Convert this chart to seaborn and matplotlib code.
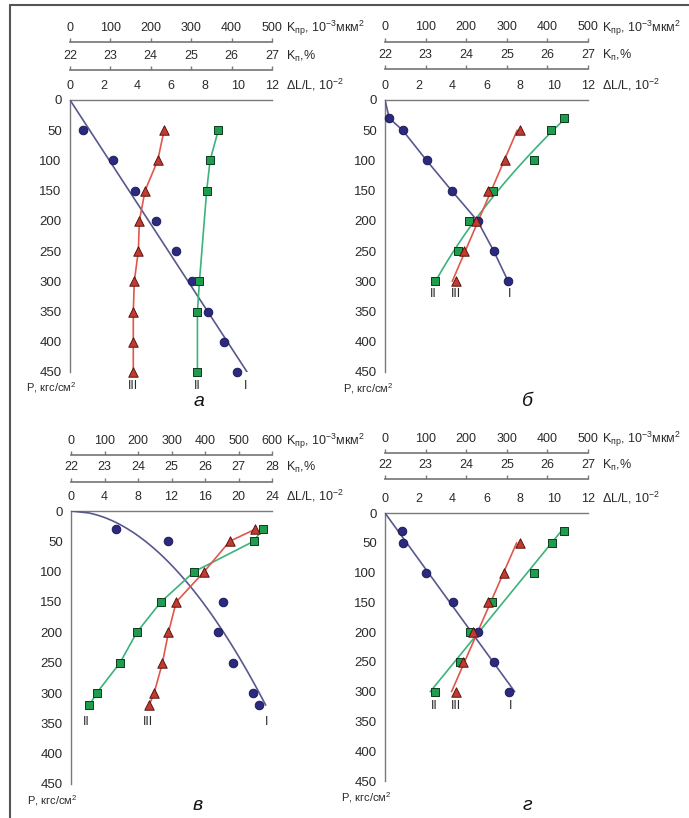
import numpy as np
import matplotlib.pyplot as plt
import seaborn as sns
from matplotlib.lines import Line2D

# values are read in units of the ΔL/L axis of each panel, P in kgf/cm2
# panel а
P_a = [50, 100, 150, 200, 250, 300, 350, 400, 450]
I_a = [0.79, 2.58, 3.86, 5.09, 6.28, 7.27, 8.20, 9.17, 9.94]
III_a = [5.59, 5.21, 4.46, 4.12, 4.06, 3.82, 3.76, 3.76, 3.76]
P_a_II = [50, 100, 150, 300, 350, 450]
II_a = [8.81, 8.32, 8.12, 7.69, 7.57, 7.57]

# panel б
P_b = [30, 50, 100, 150, 200, 250, 300]
I_b = [0.25, 1.04, 2.46, 3.94, 5.47, 6.43, 7.28]
II_b = [10.57, 9.84, 8.80, 6.39, 4.98, 4.33, 2.95]
P_b_III = [50, 100, 150, 200, 250, 300]
III_b = [7.97, 7.08, 6.10, 5.37, 4.66, 4.19]

# panel в
P_v = [30, 50, 100, 150, 200, 250, 300, 320]
P_v_I = [30, 50, 150, 200, 250, 300, 320]
I_v = [5.38, 11.56, 18.14, 17.50, 19.33, 21.70, 22.40]
II_v = [22.88, 21.80, 14.71, 10.73, 7.86, 5.86, 3.07, 2.19]
III_v = [22.00, 18.94, 15.90, 12.56, 11.64, 10.92, 9.93, 9.33]

# panel г
P_g = [30, 50, 100, 150, 200, 250, 300]
I_g = [0.99, 1.09, 2.44, 4.02, 5.47, 6.45, 7.33]
II_g = [10.60, 9.90, 8.81, 6.30, 5.05, 4.42, 2.93]
P_g_III = [50, 100, 150, 200, 250, 300]
III_g = [7.98, 7.03, 6.10, 5.21, 4.61, 4.22]

sns.set_theme(style="white")
plt.rcParams['font.family'] = ['Liberation Sans', 'DejaVu Sans']
plt.rcParams['mathtext.fontset'] = 'custom'
plt.rcParams['mathtext.rm'] = 'Liberation Sans'

W, H = 689, 818
AX_GRAY = '#7a7a7a'
TXT = '#2a2a2a'
STY = {
    'I': dict(marker='o', s=38, color='#2b2a7e', edgecolor='#1c1b5a', line='#58588e'),
    'II': dict(marker='s', s=40, color='#1f9d4e', edgecolor='#0c3a1c', line='#3cb37a'),
    'III': dict(marker='^', s=46, color='#c23b30', edgecolor='#5a1410', line='#e0574c'),
}

fig = plt.figure(figsize=(W / 100, H / 100), dpi=100)


def px_rect(x0, y0, x1, y1):
    return [x0 / W, 1 - y1 / H, (x1 - x0) / W, (y1 - y0) / H]


def setup_panel(rect, xmax, xstep, kpr_max, kp_hi, loc_kp, loc_kpr):
    ax = fig.add_axes(rect)
    ax.set_xlim(0, xmax)
    ax.set_ylim(450, 0)
    ax.set_xticks(np.arange(0, xmax + 0.1, xstep))
    ax.set_yticks(np.arange(0, 451, 50))
    ax.xaxis.tick_top()
    sns.despine(ax=ax, top=False, right=True, bottom=True, left=False)
    for s in ax.spines.values():
        s.set_color(AX_GRAY)
        s.set_linewidth(1)
    ax.tick_params(axis='x', direction='out', length=3, width=1, color=AX_GRAY,
                   labelsize=9, labelcolor=TXT, pad=3)
    ax.tick_params(axis='y', direction='out', length=4, width=1, color=AX_GRAY,
                   labelsize=9.5, labelcolor=TXT, pad=2)
    ax.set_xlabel('')
    ax.set_ylabel('')

    kp = ax.secondary_xaxis(1 + loc_kp, functions=(lambda v: 22 + v * (kp_hi - 22) / xmax,
                                                   lambda k: (k - 22) * xmax / (kp_hi - 22)))
    kp.set_xticks(np.arange(22, kp_hi + 0.1, 1))
    kpr = ax.secondary_xaxis(1 + loc_kpr, functions=(lambda v: v * kpr_max / xmax,
                                                     lambda k: k * xmax / kpr_max))
    kpr.set_xticks(np.arange(0, kpr_max + 1, 100))
    for sec in (kp, kpr):
        sec.spines['top'].set_color(AX_GRAY)
        sec.tick_params(axis='x', direction='out', length=3, width=1, color=AX_GRAY,
                        labelsize=9, labelcolor=TXT, pad=3)

    kw = dict(xycoords='axes fraction', textcoords='offset points', ha='left',
              va='center', fontsize=9, color=TXT)
    ax.annotate(r'ΔL/L, 10$^{\mathregular{-2}}$', xy=(1, 1), xytext=(10, 11), **kw)
    ax.annotate(r'K$_{\mathregular{п}}$,%', xy=(1, 1 + loc_kp), xytext=(10, 10), **kw)
    ax.annotate(r'K$_{\mathregular{пр}}$, 10$^{\mathregular{-3}}$мкм$^{\mathregular{2}}$',
                xy=(1, 1 + loc_kpr), xytext=(10, 10), **kw)
    return ax


def marks(ax, x, P, kind):
    st = STY[kind]
    sns.scatterplot(x=x, y=P, ax=ax, marker=st['marker'], s=st['s'], color=st['color'],
                    edgecolor=st['edgecolor'], linewidth=0.7, clip_on=False, zorder=5,
                    legend=False)


def line(ax, x, P, kind):
    sns.lineplot(x=x, y=P, ax=ax, orient='y', estimator=None, sort=False,
                 color=STY[kind]['line'], linewidth=1.2, zorder=3, legend=False)


def trend(ax, x, P, kind, how='linear', origin=False):
    # trendline of x against P
    x = np.asarray(x, float)
    P = np.asarray(P, float)
    pp = np.linspace(0 if origin else P.min(), P.max(), 100)
    if how == 'power':
        b, lna = np.polyfit(np.log(P), np.log(x), 1)
        xx = np.exp(lna) * pp ** b
    elif how == 'linear' and origin:
        xx = np.sum(x * P) / np.sum(P * P) * pp
    else:
        deg = 2 if how == 'quad' else 1
        xx = np.polyval(np.polyfit(P, x, deg), pp)
    line(ax, xx, pp, kind)


def roman(ax, x, P, txt, dx=0, dy=-10):
    ax.annotate(txt, xy=(x, P), xycoords='data', xytext=(dx, dy), textcoords='offset points',
                ha='center', va='center', fontsize=9, color=TXT, annotation_clip=False)


def captions(ax, letter, lx, ly, px_off, py_off):
    ax.annotate('P, кгс/см$^{\\mathregular{2}}$', xy=(0, 0), xycoords='axes fraction',
                xytext=(px_off, py_off), textcoords='offset points', ha='left', va='center',
                fontsize=8, color=TXT, annotation_clip=False)
    ax.text(lx, ly, letter, transform=ax.transAxes, ha='center', va='center',
            fontsize=14, style='italic', color='#111111')


# panel а
ax = setup_panel(px_rect(70, 100, 272, 372), 12, 2, 500, 27, 0.110, 0.213)
trend(ax, I_a, P_a, 'I', origin=True)
line(ax, II_a, P_a_II, 'II')
line(ax, III_a, P_a, 'III')
marks(ax, I_a, P_a, 'I')
marks(ax, II_a, P_a_II, 'II')
marks(ax, III_a, P_a, 'III')
roman(ax, III_a[-1], P_a[-1], 'III')
roman(ax, II_a[-1], P_a_II[-1], 'II')
roman(ax, I_a[-1], P_a[-1], 'I', dx=6)
captions(ax, 'а', 0.64, -0.11, -32, -11)

# panel б
ax = setup_panel(px_rect(385, 100, 588, 372), 12, 2, 500, 27, 0.114, 0.214)
line(ax, [0] + I_b, [0] + P_b, 'I')
trend(ax, II_b, P_b, 'II', how='quad')
trend(ax, III_b, P_b_III, 'III')
marks(ax, I_b, P_b, 'I')
marks(ax, II_b, P_b, 'II')
marks(ax, III_b, P_b_III, 'III')
roman(ax, II_b[-1], P_b[-1], 'II', dx=-1, dy=-9)
roman(ax, III_b[-1], P_b_III[-1], 'III', dy=-9)
roman(ax, I_b[-1], P_b[-1], 'I', dx=1, dy=-9)
captions(ax, 'б', 0.70, -0.11, -30, -12)

# panel в
ax = setup_panel(px_rect(71, 511, 272, 784), 24, 4, 600, 28, 0.107, 0.205)
trend(ax, I_v, P_v_I, 'I', how='power', origin=True)
line(ax, II_v, P_v, 'II')
line(ax, III_v, P_v, 'III')
marks(ax, I_v, P_v_I, 'I')
marks(ax, II_v, P_v, 'II')
marks(ax, III_v, P_v, 'III')
roman(ax, II_v[-1], P_v[-1], 'II', dx=-2, dy=-12)
roman(ax, III_v[-1], P_v[-1], 'III', dx=-1, dy=-12)
roman(ax, I_v[-1], P_v_I[-1], 'I', dx=6, dy=-12)
captions(ax, 'в', 0.63, -0.08, -32, -12)

# panel г
ax = setup_panel(px_rect(385, 513, 588, 781), 12, 2, 500, 27, 0.125, 0.224)
trend(ax, I_g, P_g, 'I', origin=True)
trend(ax, II_g, P_g, 'II')
trend(ax, III_g, P_g_III, 'III')
marks(ax, I_g, P_g, 'I')
marks(ax, II_g, P_g, 'II')
marks(ax, III_g, P_g_III, 'III')
roman(ax, II_g[-1], P_g[-1], 'II', dy=-10)
roman(ax, III_g[-1], P_g_III[-1], 'III', dy=-10)
roman(ax, I_g[-1], P_g[-1], 'I', dx=1, dy=-10)
captions(ax, 'г', 0.70, -0.09, -32, -12)

# frame
fig.add_artist(Line2D([10 / W, 1], [1 - 5 / H] * 2, transform=fig.transFigure,
                      color='#555555', linewidth=1.5))
fig.add_artist(Line2D([10 / W] * 2, [0, 1 - 5 / H], transform=fig.transFigure,
                      color='#555555', linewidth=1.5))

fig.savefig('out.png', dpi=100)
